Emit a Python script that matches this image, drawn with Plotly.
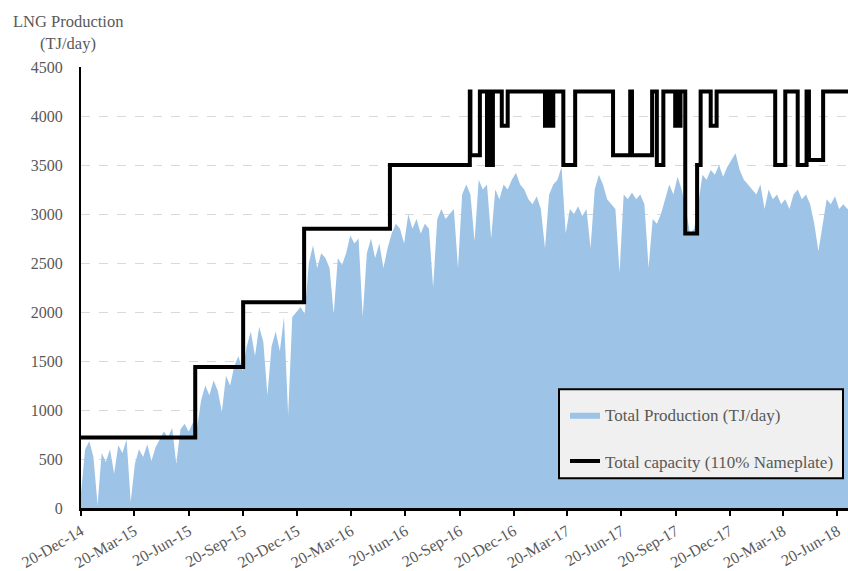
import pandas as pd
import plotly.graph_objects as go

# Weekly LNG production (TJ/day), starting 20-Dec-2014
prod_start = "2014-12-20"
production = [
    150, 600, 680, 520, 30, 560, 470, 600, 350, 640,
    560, 700, 60, 450, 600, 520, 650, 480, 620, 700,
    780, 720, 820, 450, 800, 860, 780, 870, 820, 1100,
    1250, 1150, 1300, 1200, 980, 1350, 1250, 1450, 1550, 1400,
    1650, 1800, 1550, 1850, 1700, 1150, 1650, 1800, 1600, 1950,
    950, 1950, 2000, 2050, 1980, 2500, 2680, 2450, 2600, 2550,
    2450, 1980, 2550, 2480, 2600, 2780, 2700, 2750, 1950, 2600,
    2750, 2550, 2700, 2450, 2650, 2800, 2900, 2850, 2700, 3000,
    2850, 2950, 2800, 2900, 2850, 2250, 2950, 3050, 2950, 3000,
    3050, 2450, 3200, 3300, 3200, 2720, 3350, 3250, 3300, 2750,
    3250, 3150, 3300, 3250, 3350, 3420, 3300, 3250, 3150, 3100,
    3180, 3050, 2650, 3200, 3300, 3350, 3480, 2800, 3050, 3000,
    3080, 2980, 3050, 2650, 3250, 3400, 3300, 3150, 3100, 3050,
    2400, 3200, 3150, 3220, 3150, 3200, 3100, 2450, 2950, 2900,
    3000, 3150, 3300, 3200, 3380, 3250, 3050, 2800, 2850, 3100,
    3400, 3350, 3450, 3400, 3500, 3380, 3480, 3550, 3620, 3450,
    3350, 3300, 3250, 3200, 3300, 3050, 3250, 3150, 3200, 3100,
    3150, 3050, 3200, 3250, 3150, 3200, 3100, 2900, 2620, 2900,
    3150, 3100, 3180, 3050, 3100, 3050, 3080,
]

# Total capacity (110% of nameplate), value from each change date onward
cap_dates = [
    "2014-12-20", "2015-07-01", "2015-09-20", "2016-01-01", "2016-05-25",
    "2016-10-07", "2016-10-08", "2016-10-24", "2016-11-05", "2016-11-09",
    "2016-11-11", "2016-11-15", "2016-11-30", "2016-12-10", "2017-02-11",
    "2017-02-16", "2017-02-19", "2017-02-25", "2017-03-14", "2017-04-03",
    "2017-06-06", "2017-07-05", "2017-07-08", "2017-08-11", "2017-08-19",
    "2017-08-30", "2017-09-19", "2017-09-22", "2017-09-24", "2017-09-28",
    "2017-10-06", "2017-10-26", "2017-11-01", "2017-11-18", "2017-11-28",
    "2018-03-07", "2018-03-24", "2018-04-14", "2018-04-29", "2018-05-03",
    "2018-05-27", "2018-07-15",
]
cap_values = [
    720, 1440, 2100, 2850, 3500,
    4250, 3600, 4250, 3500, 4250,
    3500, 4250, 3900, 4250, 3900,
    4250, 3900, 4250, 3500, 4250,
    3600, 4250, 3600, 4250, 3500,
    4250, 3900, 4250, 3900, 4250,
    2800, 3500, 4250, 3900, 4250,
    3500, 4250, 3500, 4250, 3550,
    4250, 4250,
]

y_ticks = [0, 500, 1000, 1500, 2000, 2500, 3000, 3500, 4000, 4500]

prod_dates = pd.date_range(prod_start, periods=len(production), freq="7D")

serif = "Liberation Serif, Times New Roman, serif"
grey = "#595959"

# plot-area pixel geometry, used to place the title and legend box
PL, PR, PT, PB = 81, 848, 67, 513


def px_x(x):
    return (x - PL) / (PR - PL)


def px_y(y):
    return (PB - y) / (PB - PT)


fig = go.Figure()
fig.add_trace(go.Scatter(
    x=prod_dates, y=production,
    mode="lines", fill="tozeroy",
    line=dict(width=0, color="#9DC3E6"),
    fillcolor="#9DC3E6",
    name="Total Production (TJ/day)",
    legendgroup="prod",
))
fig.add_trace(go.Scatter(
    x=pd.to_datetime(cap_dates), y=cap_values,
    mode="lines", line=dict(color="black", width=4, shape="hv"),
    name="Total capacity (110% Nameplate)",
    legendgroup="cap",
))

fig.update_layout(
    width=848, height=571,
    margin=dict(l=PL, r=848 - PR, t=PT, b=571 - PB),
    paper_bgcolor="white", plot_bgcolor="white",
    font=dict(family=serif, size=16, color=grey),
    showlegend=True,
    legend=dict(
        x=px_x(565), y=px_y(401), xanchor="left", yanchor="top",
        bgcolor="rgba(0,0,0,0)", borderwidth=0,
        font=dict(family=serif, size=17, color=grey),
        itemwidth=30,
        tracegroupgap=21,
    ),
    shapes=[
        dict(type="rect", xref="paper", yref="paper",
             x0=px_x(559), x1=px_x(843), y0=px_y(483), y1=px_y(393),
             fillcolor="#f0f0f0", line=dict(color="black", width=2),
             layer="above"),
    ],
    annotations=[
        dict(text="LNG Production", x=px_x(68), y=px_y(21),
             xref="paper", yref="paper", xanchor="center", yanchor="middle",
             showarrow=False, font=dict(family=serif, size=16.5, color=grey)),
        dict(text="(TJ/day)", x=px_x(68), y=px_y(43),
             xref="paper", yref="paper", xanchor="center", yanchor="middle",
             showarrow=False, font=dict(family=serif, size=16.5, color=grey)),
    ],
)

fig.update_xaxes(
    type="date",
    range=["2014-12-20", "2018-07-08"],
    tick0="2014-12-20", dtick="M3", tickformat="%d-%b-%y",
    tickangle=-30,
    ticks="outside", ticklen=5, tickwidth=2, tickcolor="black",
    showline=True, linecolor="black", linewidth=3,
    showgrid=False, zeroline=False,
    tickfont=dict(family=serif, size=16, color=grey),
)
fig.update_yaxes(
    range=[0, 4500], tickvals=y_ticks,
    showline=True, linecolor="black", linewidth=2,
    showgrid=True, gridcolor="#d9d9d9", griddash="dash", gridwidth=1,
    zeroline=False, ticks="", ticklabelstandoff=13,
    tickfont=dict(family=serif, size=16, color=grey),
)

fig.write_html("out.html")
